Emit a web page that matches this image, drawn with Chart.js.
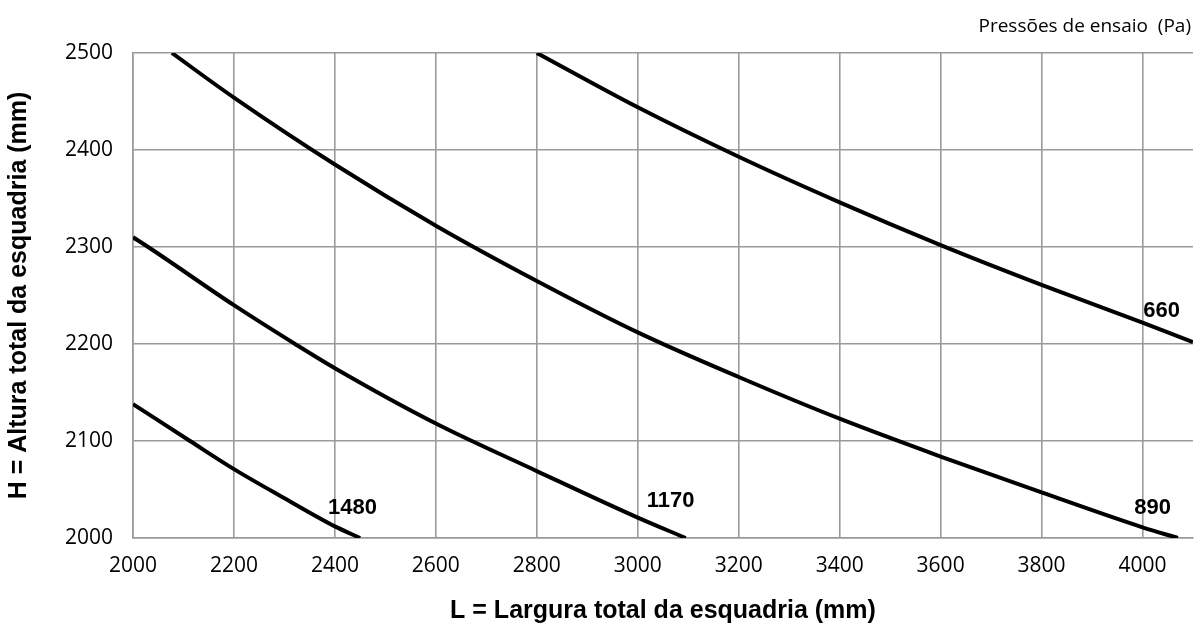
<!DOCTYPE html>
<html lang="pt">
<head>
  <meta charset="UTF-8" />
  <title>Pressões de ensaio</title>
  <style>
    html,body{margin:0;padding:0;background:#fff}
    #wrap{width:1196px;height:630px}
  </style>
  <script src="https://cdn.jsdelivr.net/npm/chart.js"></script>
</head>
<body>
<div id="wrap"><canvas id="cv" width="1196" height="630"></canvas></div>
<script>
// curve data (L in mm, H in mm)
const pressures=['1480','1170','890','660'];
const L1480=[2000,2113,2200,2300,2400,2450];
const H1480=[2138,2100,2071,2041,2012,2000];
const L1170=[2000,2030,2200,2321,2400,2600,2800,3000,3095];
const H1170=[2310,2300,2240,2200,2175,2118,2069,2021,2000];
const L890=[2077,2200,2400,2600,2800,3000,3200,3400,3600,3800,4000,4070];
const H890=[2500,2454,2385,2322,2265,2212,2166,2123,2084,2047,2011,2000];
const L660=[2800,3000,3200,3400,3600,3800,4000,4100];
const H660=[2500,2444,2393,2346,2302,2261,2222,2202];
// where each pressure label sits (data coords)
const labelL=[2435,3065,4020,4038];
const labelH=[2031,2038,2031,2234];

const xTitle='L = Largura total da esquadria (mm)';
const yTitle='H = Altura total da esquadria (mm)';
const cornerNote='Pressões de ensaio  (Pa)';

const pts=(xs,ys)=>xs.map((x,i)=>({x:x,y:ys[i]}));
const series=[pts(L1480,H1480),pts(L1170,H1170),pts(L890,H890),pts(L660,H660)];

const curveLabels={
  id:'curveLabels',
  afterDatasetsDraw(c){
    const ctx=c.ctx,xs=c.scales.x,ys=c.scales.y;
    ctx.save();
    ctx.fillStyle='#000';
    ctx.font='bold 22px "Liberation Sans", Arial, sans-serif';
    ctx.textAlign='center';ctx.textBaseline='middle';
    pressures.forEach((p,i)=>ctx.fillText(p,xs.getPixelForValue(labelL[i]),ys.getPixelForValue(labelH[i])));
    ctx.font='19px "Open Sans", sans-serif';
    ctx.textAlign='right';
    ctx.fillText(cornerNote,1191,27);
    ctx.restore();
  }
};

const gridCol='#9a9a9a';
new Chart(document.getElementById('cv'),{
  type:'scatter',
  data:{datasets:series.map((d,i)=>({
    label:pressures[i],data:d,showLine:true,
    borderColor:'#000',borderWidth:4,pointRadius:0,
    cubicInterpolationMode:'monotone',fill:false
  }))},
  options:{
    responsive:false,animation:false,
    layout:{padding:{top:53,right:3,left:0,bottom:0}},
    plugins:{legend:{display:false},tooltip:{enabled:false}},
    scales:{
      x:{type:'linear',min:2000,max:4100,
        ticks:{stepSize:200,includeBounds:false,padding:15,color:'#000',
          font:{family:'"Open Sans", sans-serif',size:21},callback:v=>String(v)},
        grid:{color:gridCol,lineWidth:1.6,drawTicks:false},
        border:{color:gridCol,width:1.6},
        title:{display:true,text:xTitle,color:'#000',padding:{top:0,bottom:4},
          font:{family:'"Liberation Sans", Arial, sans-serif',size:25,weight:'bold'}},
        afterFit(s){s.height=92;}
      },
      y:{type:'linear',min:2000,max:2500,
        ticks:{stepSize:100,padding:20,color:'#000',
          font:{family:'"Open Sans", sans-serif',size:21},callback:v=>String(v)},
        grid:{color:gridCol,lineWidth:1.6,drawTicks:false},
        border:{color:gridCol,width:1.6},
        title:{display:true,text:yTitle,color:'#000',padding:{top:4,bottom:0},
          font:{family:'"Liberation Sans", Arial, sans-serif',size:25,weight:'bold'}},
        afterFit(s){s.width=133;}
      }
    }
  },
  plugins:[curveLabels]
});
</script>
</body>
</html>
